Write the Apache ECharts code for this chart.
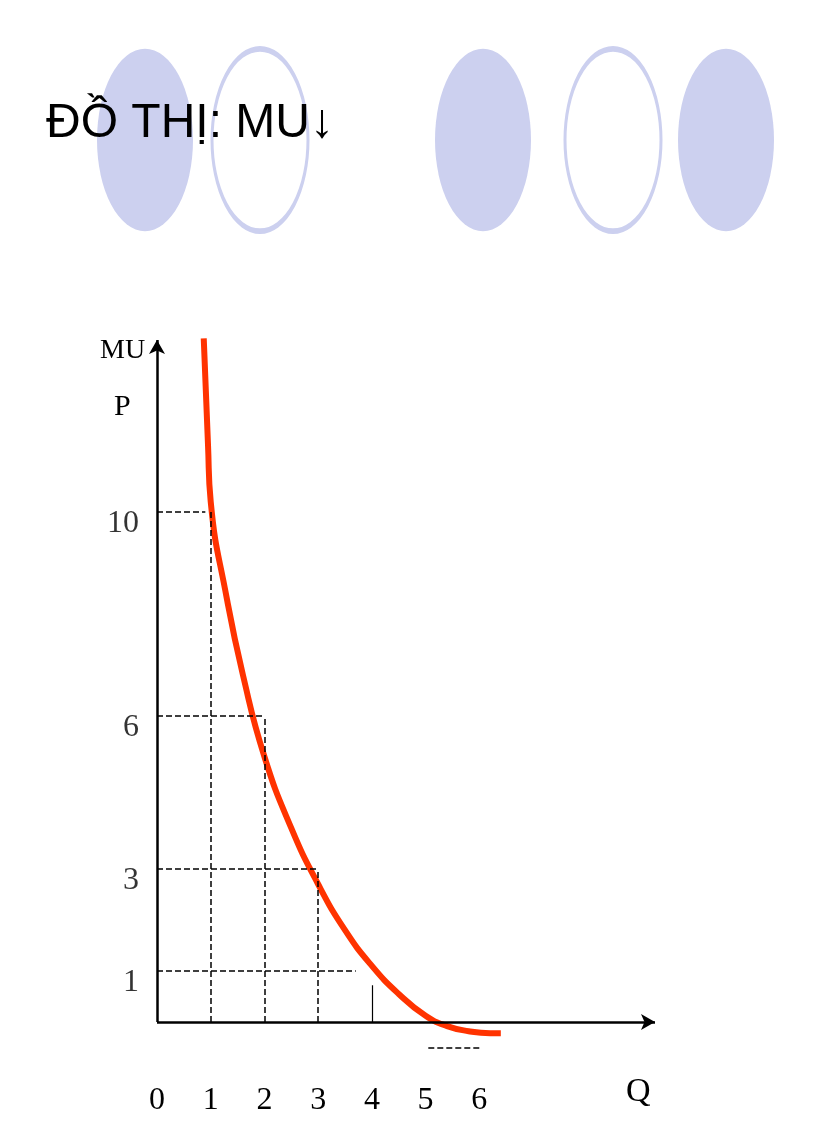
<!DOCTYPE html><html><head><meta charset="utf-8">
<script src="https://cdn.jsdelivr.net/npm/echarts@6/dist/echarts.min.js"></script>
<style>html,body{margin:0;background:#fff}#c{width:816px;height:1123px}</style></head><body><div id="c"></div>
<script>
const xTicks=[0,1,2,3,4,5,6];
const yTicks=[1,3,6,10];
const curveQ=[0.87,0.95,1,1.3,1.6,2,2.5,3,3.5,4,4.5,5,5.4,5.8,6.2,6.4];
const curveMU=[13.4,11.3,10.2,8.3,6.8,5.2,3.8,2.7,1.8,1.1,0.55,0.12,-0.08,-0.18,-0.22,-0.22];
const guideQ=[1,2,3];
const guideMU=[10,6,3];
const c=echarts.init(document.getElementById('c'));
const dash={type:'dashed',width:1.5,color:'#000'};
const guides=[];
guideQ.forEach((q,i)=>{
 guides.push([{coord:[0,guideMU[i]]},{coord:[q-(i==0?0.1:0),guideMU[i]]}]);
 guides.push([{coord:[q,0]},{coord:[q,guideMU[i]]}]);
});
guides.push([{coord:[0,1]},{coord:[3.7,1]}]);
guides.push([{coord:[5.05,-0.5]},{coord:[6.05,-0.5]}]);
const circ=(x,fill)=>({type:'circle',x:x,y:140,scaleY:1.9,shape:{r:48},style:{fill:fill?'#ccd0ef':'#fff',stroke:'#ccd0ef',lineWidth:fill?0:3}});
c.setOption({animation:false,
 graphic:[circ(145,1),circ(260,0),circ(483,1),circ(613,0),circ(726,1),
  {type:'text',left:46,top:100,style:{text:'ĐỒ THỊ: MU↓',font:'48px "Liberation Sans Narrow","Liberation Sans",Arial',fill:'#000'}},
  {type:'text',left:100,top:337,style:{text:'MU',font:'28px "Liberation Serif"',fill:'#000'}},
  {type:'text',left:114,top:392,style:{text:'P',font:'30px "Liberation Serif"',fill:'#000'}},
  {type:'text',left:626,top:1075,style:{text:'Q',font:'34px "Liberation Serif"',fill:'#000'}}],
 grid:{left:157,right:161,top:340,bottom:50},
 xAxis:{type:'value',min:0,max:9.27,interval:1,axisLine:{show:false},axisTick:{show:false},splitLine:{show:false},
  axisLabel:{margin:12,fontFamily:'Liberation Serif',fontSize:32,color:'#000',formatter:v=>xTicks.includes(v)?String(v):''}},
 yAxis:{type:'value',min:-1,max:13.37,axisLine:{show:false},axisTick:{show:false},splitLine:{show:false},
  axisLabel:{show:false}},
 series:[
  {type:'line',data:[],markLine:{silent:true,symbol:['none','arrow'],symbolSize:[12,14],label:{show:false},lineStyle:{type:'solid',width:2.5,color:'#000'},
   data:[[{coord:[0,0]},{coord:[9.27,0]}],[{coord:[0,0]},{coord:[0,13.37]}]]}},
  {type:'line',data:[],markLine:{silent:true,symbol:'none',label:{show:false},lineStyle:dash,data:guides}},
  {type:'line',data:[],markLine:{silent:true,symbol:'none',label:{show:false},lineStyle:{type:'solid',width:1.2,color:'#000'},data:[[{coord:[4,0]},{coord:[4,0.72]}]]}},
  {type:'scatter',data:yTicks.map(v=>[0,v]),symbolSize:0,label:{show:true,position:'left',distance:18,offset:[0,12],formatter:p=>String(p.value[1]),fontFamily:'Liberation Serif',fontSize:32,color:'#000'}},
  {type:'line',smooth:0.5,showSymbol:false,data:curveQ.map((q,i)=>[q,curveMU[i]]),lineStyle:{color:'#ff3300',width:6}}
 ]});
</script></body></html>
